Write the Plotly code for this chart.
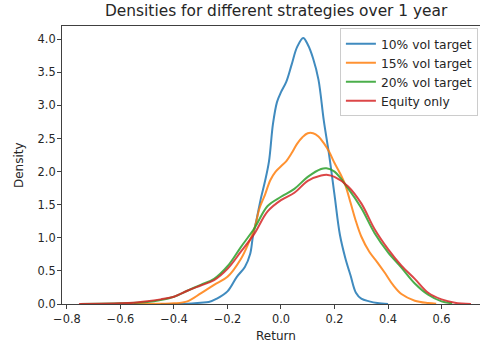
import plotly.graph_objects as go

# ---- data ----
series_names = ["10% vol target", "15% vol target", "20% vol target", "Equity only"]
series_colors = ["#1f77b4", "#ff7f0e", "#2ca02c", "#d62728"]

x_vol10 = [-0.45, -0.35, -0.30, -0.27, -0.24, -0.20, -0.165, -0.135, -0.115, -0.105,
           -0.09, -0.075, -0.06, -0.045, -0.03, -0.015, 0.0, 0.02, 0.04, 0.06,
           0.083, 0.10, 0.12, 0.14, 0.16, 0.18, 0.20, 0.22, 0.24, 0.26,
           0.28, 0.30, 0.33, 0.36, 0.40]
y_vol10 = [0.0, 0.005, 0.02, 0.03, 0.08, 0.19, 0.41, 0.56, 0.76, 1.02,
           1.30, 1.60, 1.85, 2.15, 2.72, 3.05, 3.2, 3.36, 3.62, 3.88,
           4.02, 3.92, 3.71, 3.39, 2.77, 2.25, 1.65, 1.05, 0.70, 0.43,
           0.17, 0.08, 0.04, 0.015, 0.0]

x_vol15 = [-0.55, -0.45, -0.40, -0.35, -0.30, -0.25, -0.20, -0.15, -0.12, -0.10,
           -0.08, -0.06, -0.04, -0.02, 0.0, 0.02, 0.04, 0.06, 0.08, 0.10,
           0.12, 0.14, 0.16, 0.18, 0.20, 0.22, 0.24, 0.26, 0.28, 0.30,
           0.33, 0.36, 0.39, 0.42, 0.45, 0.50, 0.55, 0.58]
y_vol15 = [0.0, 0.005, 0.01, 0.04, 0.16, 0.29, 0.41, 0.68, 0.93, 1.13,
           1.45, 1.65, 1.87, 2.0, 2.08, 2.16, 2.28, 2.42, 2.52, 2.58,
           2.58, 2.53, 2.43, 2.30, 2.13, 1.98, 1.80, 1.53, 1.25, 1.02,
           0.79, 0.63, 0.46, 0.28, 0.15, 0.05, 0.015, 0.005]

x_vol20 = [-0.75, -0.60, -0.50, -0.45, -0.40, -0.35, -0.30, -0.25, -0.20, -0.15,
           -0.10, -0.05, 0.0, 0.05, 0.10, 0.15, 0.17, 0.20, 0.25, 0.30,
           0.35, 0.40, 0.45, 0.50, 0.55, 0.60, 0.64]
y_vol20 = [0.0, 0.01, 0.03, 0.06, 0.11, 0.20, 0.29, 0.38, 0.57, 0.86,
           1.14, 1.48, 1.62, 1.74, 1.92, 2.04, 2.05, 2.0, 1.75, 1.45,
           1.07, 0.78, 0.55, 0.31, 0.14, 0.04, 0.01]

x_equity = [-0.755, -0.60, -0.55, -0.50, -0.45, -0.40, -0.35, -0.30, -0.25, -0.20,
            -0.15, -0.10, -0.05, 0.0, 0.05, 0.10, 0.15, 0.175, 0.20, 0.25,
            0.30, 0.35, 0.40, 0.45, 0.50, 0.55, 0.60, 0.65, 0.71]
y_equity = [0.0, 0.01, 0.02, 0.04, 0.07, 0.11, 0.20, 0.28, 0.36, 0.53,
            0.79, 1.06, 1.40, 1.57, 1.68, 1.86, 1.94, 1.95, 1.92, 1.78,
            1.52, 1.13, 0.83, 0.58, 0.38, 0.17, 0.07, 0.02, 0.0]

x_ticks = [-0.8, -0.6, -0.4, -0.2, 0.0, 0.2, 0.4, 0.6]
y_ticks = [0.0, 0.5, 1.0, 1.5, 2.0, 2.5, 3.0, 3.5, 4.0]

title_text = "Densities for different strategies over 1 year"
x_label = "Return"
y_label = "Density"

# ---- figure ----
FONT = "DejaVu Sans"
TXT = "#262626"
SPINE = "#404040"

fig = go.Figure()
for name, color, xs, ys in zip(series_names, series_colors,
                               [x_vol10, x_vol15, x_vol20, x_equity],
                               [y_vol10, y_vol15, y_vol20, y_equity]):
    fig.add_trace(go.Scatter(
        x=xs, y=ys, mode="lines", name=name,
        line=dict(color=color, width=2, shape="spline", smoothing=1.0),
        opacity=0.85,
    ))

fig.update_layout(
    width=480, height=348,
    margin=dict(l=62, r=0, t=26, b=44),
    paper_bgcolor="white", plot_bgcolor="white",
    font=dict(family=FONT, size=11, color=TXT),
    showlegend=True,
    legend=dict(
        x=0.995, y=0.992, xanchor="right", yanchor="top",
        bgcolor="rgba(255,255,255,0.8)", bordercolor="#cccccc", borderwidth=1,
        font=dict(family=FONT, size=12.3, color=TXT),
        itemwidth=30, tracegroupgap=0,
    ),
    annotations=[
        dict(text=title_text, xref="paper", yref="paper", x=0.512, y=1.0,
             xanchor="center", yanchor="bottom", yshift=4, showarrow=False,
             font=dict(family=FONT, size=15.4, color=TXT)),
        dict(text=x_label, xref="paper", yref="paper", x=0.512, y=0,
             xanchor="center", yanchor="middle", yshift=-32, showarrow=False,
             font=dict(family=FONT, size=12, color=TXT)),
        dict(text=y_label, xref="paper", yref="paper", x=0, y=0.5,
             xanchor="center", yanchor="middle", xshift=-43, textangle=-90,
             showarrow=False, font=dict(family=FONT, size=12, color=TXT)),
    ],
)

fig.update_xaxes(
    range=[-0.8184, 0.7437], tickvals=x_ticks,
    ticktext=[("\u2212" if v < 0 else "") + f"{abs(v):.1f}" for v in x_ticks],
    showgrid=False, zeroline=False,
    showline=True, linecolor=SPINE, linewidth=1, mirror=True,
    ticks="outside", ticklen=4, tickcolor=SPINE, tickwidth=1,
    tickfont=dict(family=FONT, size=11.4, color=TXT),
)
fig.update_yaxes(
    range=[0, 4.2], tickvals=y_ticks,
    ticktext=[f"{v:.1f}" for v in y_ticks],
    showgrid=False, zeroline=False,
    showline=True, linecolor=SPINE, linewidth=1, mirror=False,
    ticks="outside", ticklen=4, tickcolor=SPINE, tickwidth=1,
    ticklabelstandoff=-1,
    tickfont=dict(family=FONT, size=11.4, color=TXT),
)

fig.write_html("out.html")
